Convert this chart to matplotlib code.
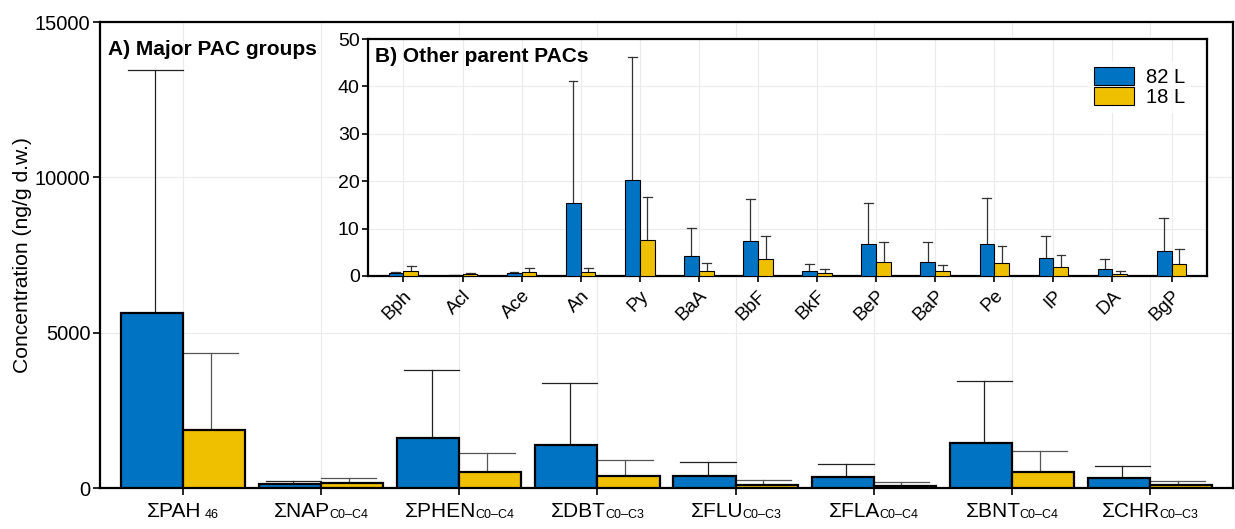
import numpy as np
import matplotlib
matplotlib.use("Agg")
import matplotlib.pyplot as plt
import matplotlib.transforms as mtransforms
from matplotlib.patches import Patch

plt.rcParams['font.family'] = ['Liberation Sans', 'DejaVu Sans']

# ---- Panel A: major PAC groups (ng/g d.w.) ----
group_names = ["ΣPAH", "ΣNAP", "ΣPHEN", "ΣDBT", "ΣFLU", "ΣFLA", "ΣBNT", "ΣCHR"]
group_subs = ["46", "C0–C4", "C0–C4", "C0–C3", "C0–C3", "C0–C4", "C0–C4", "C0–C3"]
major_82 = [5630, 130, 1610, 1385, 380, 350, 1450, 310]
major_82_upper = [13450, 230, 3800, 3380, 840, 770, 3450, 710]
major_18 = [1870, 150, 515, 390, 100, 80, 500, 90]
major_18_upper = [4345, 320, 1130, 900, 250, 200, 1190, 220]

# ---- Panel B: other parent PACs (ng/g d.w.) ----
parents = ["Bph", "Acl", "Ace", "An", "Py", "BaA", "BbF", "BkF",
           "BeP", "BaP", "Pe", "IP", "DA", "BgP"]
parent_82 = [0.63, 0.2, 0.6, 15.5, 20.2, 4.15, 7.3, 1.1, 6.75, 2.9, 6.75, 3.8, 1.5, 5.35]
parent_82_upper = [0.9, 0.3, 0.85, 41.2, 46.3, 10.1, 16.3, 2.45, 15.4, 7.1, 16.4, 8.5, 3.65, 12.2]
parent_18 = [1.0, 0.35, 0.8, 0.9, 7.7, 1.05, 3.6, 0.55, 3.0, 1.0, 2.7, 1.8, 0.5, 2.45]
parent_18_upper = [2.2, 0.7, 1.75, 1.75, 16.6, 2.7, 8.5, 1.4, 7.1, 2.25, 6.25, 4.35, 1.1, 5.75]

series_labels = ["82 L", "18 L"]
colors = ["#0073C2", "#EFC000"]
grid_c = "#EBEBEB"

fig = plt.figure(figsize=(12.35, 5.29), dpi=100)

# ---------------- main panel ----------------
ax = fig.add_axes([100/1235, 41/529, 1133/1235, 466/529])
x = np.arange(len(group_names))
bw = 0.45
ax.bar(x - bw/2, major_82, width=bw, color=colors[0], edgecolor="black", linewidth=1.6, zorder=3)
ax.bar(x + bw/2, major_18, width=bw, color=colors[1], edgecolor="black", linewidth=1.6, zorder=3)
eo, cw = 0.2, 0.4
for vals, ups, sgn, ec in [(major_82, major_82_upper, -1, "#222222"), (major_18, major_18_upper, 1, "#555555")]:
    for xi, v, u in zip(x, vals, ups):
        xc = xi + sgn * eo
        ax.plot([xc, xc], [v, u], color=ec, lw=0.9, zorder=2)
        ax.plot([xc - cw/2, xc + cw/2], [u, u], color=ec, lw=0.9, zorder=2)
ax.set_xlim(-0.6, len(group_names) - 0.4)
ax.set_ylim(0, 15000)
ax.set_yticks([0, 5000, 10000, 15000])
ax.set_xticks(x)
ax.set_xticklabels([])
ax.tick_params(axis='y', labelsize=14.5, length=5, width=1.2, pad=2)
ax.tick_params(axis='x', length=5, width=1.2, pad=3)
ax.grid(True, color=grid_c, lw=0.8, zorder=0)
ax.set_axisbelow(True)
for s in ax.spines.values():
    s.set_linewidth(1.6)
ax.set_ylabel("Concentration (ng/g d.w.)", fontsize=15.2, labelpad=2)
ax.text(0.007, 0.962, "A) Major PAC groups", transform=ax.transAxes, fontsize=15,
        fontweight="bold", va="top", ha="left")

# group labels with smaller subscripts, centred under each tick
renderer = fig.canvas.get_renderer()
xt = ax.get_xaxis_transform()
for xi, name, sub in zip(x, group_names, group_subs):
    t1 = ax.text(xi, 0, name, transform=xt, fontsize=15, ha="left", va="baseline")
    t2 = ax.text(xi, 0, sub, transform=xt, fontsize=9, ha="left", va="baseline")
    w1 = t1.get_window_extent(renderer).width
    w2 = t2.get_window_extent(renderer).width
    gap = -1.0 if sub != "46" else 3.0
    left = -(w1 + gap + w2) / 2
    t1.set_transform(mtransforms.offset_copy(xt, fig=fig, x=left, y=-29, units="dots"))
    t2.set_transform(mtransforms.offset_copy(xt, fig=fig, x=left + w1 + gap, y=-30.5, units="dots"))
    t1.set_clip_on(False)
    t2.set_clip_on(False)

# ---------------- inset panel ----------------
ins = fig.add_axes([368/1235, 253/529, 839/1235, 237/529])
ins.set_facecolor("white")
xp = np.arange(len(parents))
bw2 = 0.25
ins.bar(xp - bw2/2, parent_82, width=bw2, color=colors[0], edgecolor="black", linewidth=0.8, zorder=3)
ins.bar(xp + bw2/2, parent_18, width=bw2, color=colors[1], edgecolor="black", linewidth=0.8, zorder=3)
eo2, cw2 = 0.13, 0.15
for vals, ups, sgn in [(parent_82, parent_82_upper, -1), (parent_18, parent_18_upper, 1)]:
    for xi, v, u in zip(xp, vals, ups):
        xc = xi + sgn * eo2
        ins.plot([xc, xc], [v, u], color="#333333", lw=0.9, zorder=2)
        ins.plot([xc - cw2/2, xc + cw2/2], [u, u], color="#333333", lw=0.9, zorder=2)
ins.set_xlim(-0.6, len(parents) - 0.4)
ins.set_ylim(0, 50)
ins.set_yticks(range(0, 51, 10))
ins.set_xticks(xp)
ins.set_xticklabels(parents, rotation=45, ha="right", rotation_mode="anchor", fontsize=13.5)
ins.tick_params(axis='y', labelsize=14, length=4, width=1.2, pad=2)
ins.tick_params(axis='x', length=4, width=1.2, pad=4)
ins.grid(True, color=grid_c, lw=0.8, zorder=0)
ins.set_axisbelow(True)
for s in ins.spines.values():
    s.set_linewidth(1.6)
ins.text(0.008, 0.965, "B) Other parent PACs", transform=ins.transAxes, fontsize=15,
         fontweight="bold", va="top", ha="left")
handles = [Patch(facecolor=c, edgecolor="black", linewidth=0.8) for c in colors]
leg = ins.legend(handles, series_labels, loc="upper left", bbox_to_anchor=(0.846, 0.95),
                 fontsize=14.5, frameon=True, handlelength=2.0, handleheight=1.0,
                 handletextpad=0.6, labelspacing=0.0, borderpad=0.3, fancybox=False)
leg.get_frame().set_edgecolor("white")
leg.get_frame().set_linewidth(0)

fig.savefig("out.png", dpi=100)
